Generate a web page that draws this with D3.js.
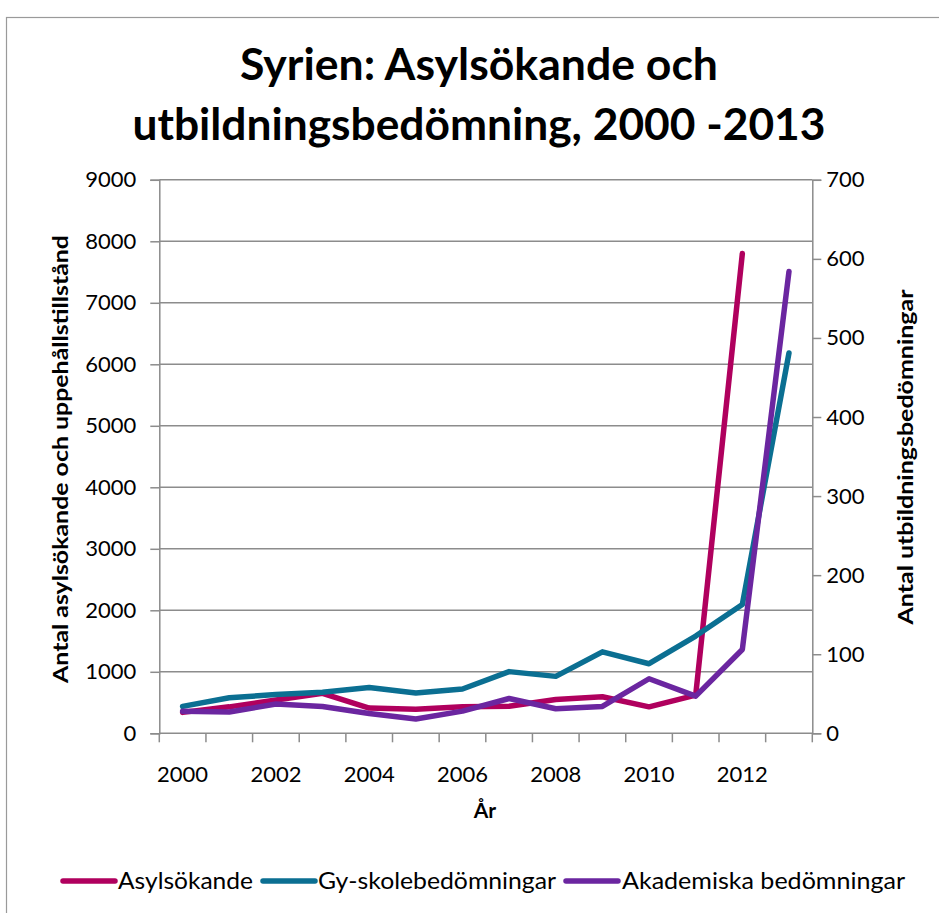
<!DOCTYPE html>
<html>
<head>
<meta charset="utf-8">
<script src="https://cdn.jsdelivr.net/npm/d3@7"></script>
<style>
  html, body { margin: 0; padding: 0; background: #fff; }
  svg { display: block; font-family: Lato, "Open Sans", sans-serif; }
</style>
</head>
<body>
<svg id="chart" width="939" height="913"></svg>
<script>
const years = [2000, 2001, 2002, 2003, 2004, 2005, 2006, 2007, 2008, 2009, 2010, 2011, 2012, 2013];
const asylsokande = [340, 430, 540, 650, 410, 390, 430, 440, 550, 595, 430, 620, 7800, null];
const gySkole = [34, 45, 49, 52, 58, 51, 56, 78, 72, 103, 88, 123, 163, 481];
const akademiska = [28, 27, 37, 34, 25, 18, 28, 44, 31, 34, 69, 47, 106, 584];
const leftTicks = [0, 1000, 2000, 3000, 4000, 5000, 6000, 7000, 8000, 9000];
const rightTicks = [0, 100, 200, 300, 400, 500, 600, 700];
const xTickLabels = [2000, 2002, 2004, 2006, 2008, 2010, 2012];
const titleLines = ["Syrien: Asylsökande och", "utbildningsbedömning, 2000 -2013"];
const seriesNames = ["Asylsökande", "Gy-skolebedömningar", "Akademiska bedömningar"];
const colors = ["#B0005E", "#0B6F92", "#6B26A0"];

const svg = d3.select("#chart");
const gridColor = "#8c8c8c";
const plot = { left: 159.3, right: 812.3, top: 179.8, bottom: 733.3 };

// Outer border
svg.append("rect").attr("x", 6.5).attr("y", 17.5).attr("width", 960).attr("height", 960)
  .attr("fill", "none").attr("stroke", "#9a9a9a").attr("stroke-width", 1.2);

// Title
const titleWidths = [478, 693];
svg.append("g").selectAll("text").data(titleLines).join("text")
  .attr("x", 479).attr("y", (d, i) => 80 + i * 60)
  .attr("text-anchor", "middle").attr("font-weight", "bold").attr("font-size", 43)
  .attr("textLength", (d, i) => titleWidths[i]).attr("lengthAdjust", "spacingAndGlyphs")
  .attr("fill", "#000")
  .text(d => d);

const x = d3.scaleBand().domain(years).range([plot.left, plot.right]).padding(0);
const yL = d3.scaleLinear().domain([0, 9000]).range([plot.bottom, plot.top]);
const yR = d3.scaleLinear().domain([0, 700]).range([plot.bottom, plot.top]);

// Gridlines
svg.append("g").selectAll("line").data(leftTicks.slice(1)).join("line")
  .attr("x1", plot.left).attr("x2", plot.right)
  .attr("y1", d => yL(d)).attr("y2", d => yL(d))
  .attr("stroke", gridColor).attr("stroke-width", 1.5);

// Left axis
const gL = svg.append("g").attr("transform", `translate(${plot.left},0)`)
  .call(d3.axisLeft(yL).tickValues(leftTicks).tickSize(9).tickPadding(14).tickFormat(d3.format("d")));
gL.select(".domain").attr("stroke", gridColor).attr("stroke-width", 1.5);
gL.selectAll(".tick line").attr("stroke", gridColor).attr("stroke-width", 1.5);
gL.selectAll(".tick text").attr("font-size", 22).attr("fill", "#000").attr("font-family", "Lato, sans-serif");

// Right axis
const gR = svg.append("g").attr("transform", `translate(${plot.right},0)`)
  .call(d3.axisRight(yR).tickValues(rightTicks).tickSize(9).tickPadding(5).tickFormat(d3.format("d")));
gR.select(".domain").attr("stroke", gridColor).attr("stroke-width", 1.5);
gR.selectAll(".tick line").attr("stroke", gridColor).attr("stroke-width", 1.5);
gR.selectAll(".tick text").attr("font-size", 22).attr("fill", "#000").attr("font-family", "Lato, sans-serif");

// Bottom axis: line, tick marks at category boundaries, labels every other year
const gB = svg.append("g");
gB.append("line").attr("x1", plot.left).attr("x2", plot.right)
  .attr("y1", plot.bottom).attr("y2", plot.bottom)
  .attr("stroke", gridColor).attr("stroke-width", 1.5);
const boundaries = years.map(d => x(d)).concat([x(years[years.length - 1]) + x.bandwidth()]);
gB.selectAll("line.tk").data(boundaries).join("line").attr("class", "tk")
  .attr("x1", d => d).attr("x2", d => d)
  .attr("y1", plot.bottom).attr("y2", plot.bottom + 9)
  .attr("stroke", gridColor).attr("stroke-width", 1.5);
gB.selectAll("text").data(xTickLabels).join("text")
  .attr("x", d => x(d) + x.bandwidth() / 2).attr("y", 782)
  .attr("text-anchor", "middle").attr("font-size", 22).attr("fill", "#000")
  .text(d => d);

// Axis titles
svg.append("text").attr("transform", "translate(68,459) rotate(-90)")
  .attr("text-anchor", "middle").attr("font-weight", "bold").attr("font-size", 21)
  .attr("textLength", 448).attr("lengthAdjust", "spacingAndGlyphs")
  .text("Antal asylsökande och uppehållstillstånd");
svg.append("text").attr("transform", "translate(913,457) rotate(-90)")
  .attr("text-anchor", "middle").attr("font-weight", "bold").attr("font-size", 21)
  .attr("textLength", 335).attr("lengthAdjust", "spacingAndGlyphs")
  .text("Antal utbildningsbedömningar");
svg.append("text").attr("x", 485).attr("y", 818)
  .attr("text-anchor", "middle").attr("font-weight", "bold").attr("font-size", 21)
  .text("År");

// Lines
const cx = d => x(d) + x.bandwidth() / 2;
const seriesData = [
  { vals: asylsokande, scale: yL },
  { vals: gySkole, scale: yR },
  { vals: akademiska, scale: yR }
];
seriesData.forEach((s, i) => {
  const pts = years.map((yr, j) => ({ yr, v: s.vals[j] }));
  const line = d3.line().defined(d => d.v != null).x(d => cx(d.yr)).y(d => s.scale(d.v));
  svg.append("path").datum(pts)
    .attr("d", line).attr("fill", "none").attr("stroke", colors[i])
    .attr("stroke-width", 5.5).attr("stroke-linejoin", "round").attr("stroke-linecap", "round");
});

// Legend
const legendItems = [
  { name: seriesNames[0], lx: 63, tx: 118, w: 135 },
  { name: seriesNames[1], lx: 263, tx: 318, w: 238 },
  { name: seriesNames[2], lx: 566, tx: 622, w: 283 }
];
const lg = svg.append("g");
legendItems.forEach((d, i) => {
  lg.append("line").attr("x1", d.lx).attr("x2", d.lx + 52).attr("y1", 881).attr("y2", 881)
    .attr("stroke", colors[i]).attr("stroke-width", 5.5).attr("stroke-linecap", "round");
  lg.append("text").attr("x", d.tx).attr("y", 889).attr("font-size", 23).attr("fill", "#000")
    .attr("textLength", d.w).attr("lengthAdjust", "spacingAndGlyphs").text(d.name);
});
</script>
</body>
</html>
